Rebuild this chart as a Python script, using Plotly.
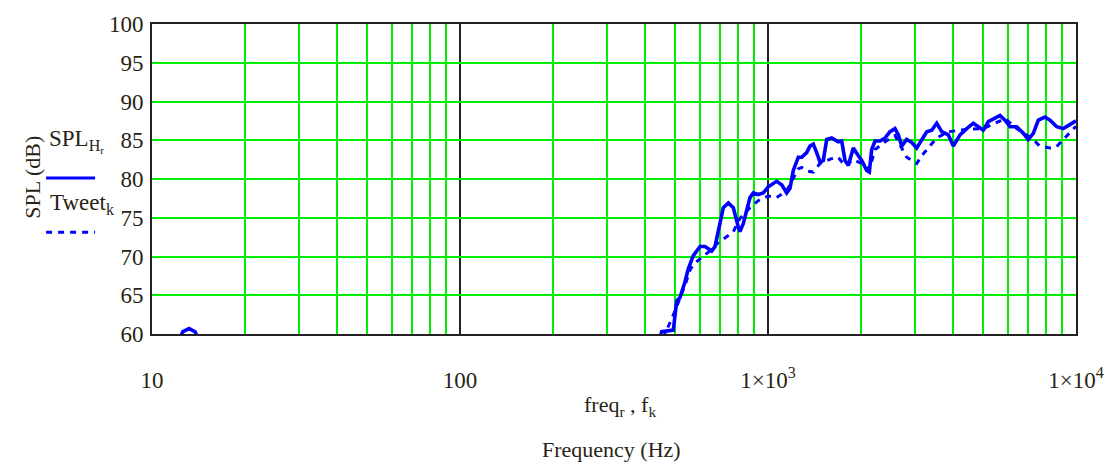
import plotly.graph_objects as go

# Measured response, SPL_H(r) over freq(r)
freq_r = [11.5, 12.6, 13.2, 13.8, 15.0,
          430, 451.7, 492.6, 505.3, 517.9, 537.6, 551.0, 572.1, 601.4, 624.4, 656.5,
          672.9, 689.7, 716.0, 743.3, 771.6, 801.0, 811.2, 831.4, 852.7, 874.1,
          896.0, 930.0, 965.4, 1002, 1067, 1108, 1150, 1179, 1208, 1254, 1287,
          1335, 1369, 1403, 1439, 1475, 1512, 1551, 1610, 1691, 1735, 1778, 1823,
          1892, 1965, 2015, 2092, 2133, 2171, 2226, 2310, 2399, 2490, 2584, 2650,
          2717, 2820, 2929, 3039, 3155, 3276, 3400, 3530, 3664, 3849, 3996, 4201,
          4418, 4642, 4818, 5000, 5192, 5458, 5665, 5882, 6106, 6420, 6745, 7000,
          7268, 7545, 7933, 8236, 8658, 9095, 9561, 9926, 10000]
spl_h = [57.0, 60.3, 60.7, 60.3, 57.0,
         57.0, 60.3, 60.5, 64.25, 64.7, 66.75, 68.4, 70.1, 71.3, 71.3, 70.7,
         71.3, 73.4, 76.3, 76.9, 76.3, 73.8, 73.2, 74.25, 75.9, 77.6,
         78.2, 78.0, 78.2, 79.0, 79.7, 79.25, 78.2, 78.8, 81.1, 82.8, 82.8,
         83.4, 84.25, 84.5, 83.4, 82.2, 82.4, 85.1, 85.3, 84.8, 84.9, 82.4, 81.75,
         84.0, 83.0, 82.4, 81.1, 80.9, 83.8, 84.9, 84.9, 85.3, 86.1, 86.5, 85.7,
         84.25, 85.1, 84.7, 84.0, 85.0, 86.1, 86.3, 87.2, 86.1, 85.7, 84.25, 85.7,
         86.5, 87.2, 86.75, 86.3, 87.4, 87.8, 88.2, 87.6, 86.75, 86.75, 85.9, 85.1,
         85.9, 87.6, 88.0, 87.6, 86.75, 86.5, 87.0, 87.4, 87.5]

# Tweeter response, Tweet(k) over f(k)
f_k = [440, 470, 492, 505, 520, 540, 560, 585, 610, 640, 656, 690, 716, 750,
       772, 810, 874, 930, 1000, 1067, 1150, 1254, 1287, 1350, 1403, 1475,
       1600, 1691, 1778, 1892, 2015, 2133, 2226, 2400, 2584, 2717, 2820, 2929,
       3039, 3155, 3276, 3530, 3849, 4418, 5000, 5882, 6420, 7000, 7268, 7600,
       8236, 8658, 9095, 9561, 10000]
tweet_k = [58.0, 60.5, 62.4, 63.5, 64.8, 66.5, 68.4, 69.3, 69.9, 70.5, 70.9, 71.8,
           72.2, 72.8, 73.2, 74.9, 76.3, 77.2, 77.8, 77.6, 78.5, 81.3, 81.5, 81.0,
           80.9, 82.0, 82.6, 82.8, 81.7, 82.5, 82.0, 81.2, 83.8, 84.8, 85.6, 84.0,
           82.8, 82.4, 82.0, 83.0, 83.8, 85.3, 86.1, 86.4, 86.5, 87.8, 86.5, 85.5,
           85.1, 84.3, 84.0, 84.2, 85.1, 86.1, 86.8]

x_tick_vals = [10, 100, 1000, 10000]
x_tick_text = ["10", "100", "1×10<sup>3</sup>", "1×10<sup>4</sup>"]
x_minor_vals = [d * m for d in (10, 100, 1000) for m in range(2, 10)]
y_tick_vals = [60, 65, 70, 75, 80, 85, 90, 95, 100]

SERIF = "Liberation Serif, Times New Roman, serif"
TXT = "#2a1f14"
BLUE = "#0000ff"
GREEN = "#00ee00"

fig = go.Figure()
fig.add_trace(go.Scatter(x=freq_r, y=spl_h, mode="lines",
                         line=dict(color=BLUE, width=3.6), showlegend=False))
fig.add_trace(go.Scatter(x=f_k, y=tweet_k, mode="lines",
                         line=dict(color=BLUE, width=3, dash="6px,6px"),
                         showlegend=False))

fig.update_layout(
    width=1116, height=469,
    margin=dict(l=152, r=39, t=14, b=135),
    paper_bgcolor="white", plot_bgcolor="white",
    font=dict(family=SERIF, size=23, color=TXT),
    showlegend=False,
    xaxis=dict(
        type="log", range=[1, 4],
        tickvals=x_tick_vals, ticktext=x_tick_text,
        ticks="", ticklabelstandoff=24,
        showgrid=True, gridcolor="#222222", gridwidth=1.6,
        minor=dict(tickvals=x_minor_vals, showgrid=True,
                   gridcolor=GREEN, gridwidth=2, ticks=""),
        showline=True, mirror=True, linecolor="#222222", linewidth=2,
        zeroline=False,
    ),
    yaxis=dict(
        range=[60, 100], tickvals=y_tick_vals,
        ticks="", ticklabelstandoff=2,
        showgrid=True, gridcolor=GREEN, gridwidth=2,
        showline=True, mirror=True, linecolor="#222222", linewidth=2,
        zeroline=False,
    ),
)

# Axis captions
fig.add_annotation(text="freq<sub>r</sub> , f<sub>k</sub>", xref="paper", yref="paper",
                   x=0.507, y=-0.285, showarrow=False, font=dict(size=22))
fig.add_annotation(text="Frequency (Hz)", xref="paper", yref="paper",
                   x=0.497, y=-0.42, showarrow=False, font=dict(size=22))
fig.add_annotation(text="SPL (dB)", xref="paper", yref="paper",
                   x=-0.145, y=0.506, showarrow=False, textangle=-90,
                   font=dict(size=22))

# Series key on the left
fig.add_annotation(text="SPL<sub>H<sub>r</sub></sub>", xref="paper", yref="paper",
                   x=-0.114, y=0.622, xanchor="left", showarrow=False,
                   font=dict(size=23))
fig.add_annotation(text="Tweet<sub>k</sub>", xref="paper", yref="paper",
                   x=-0.113, y=0.418, xanchor="left", showarrow=False,
                   font=dict(size=23))
fig.add_shape(type="line", xref="paper", yref="paper",
              x0=-0.1146, x1=-0.0616, y0=0.503, y1=0.503,
              line=dict(color=BLUE, width=3))
fig.add_shape(type="line", xref="paper", yref="paper",
              x0=-0.1146, x1=-0.0616, y0=0.328, y1=0.328,
              line=dict(color=BLUE, width=3, dash="6px,6px"))

fig.write_html("out.html")
